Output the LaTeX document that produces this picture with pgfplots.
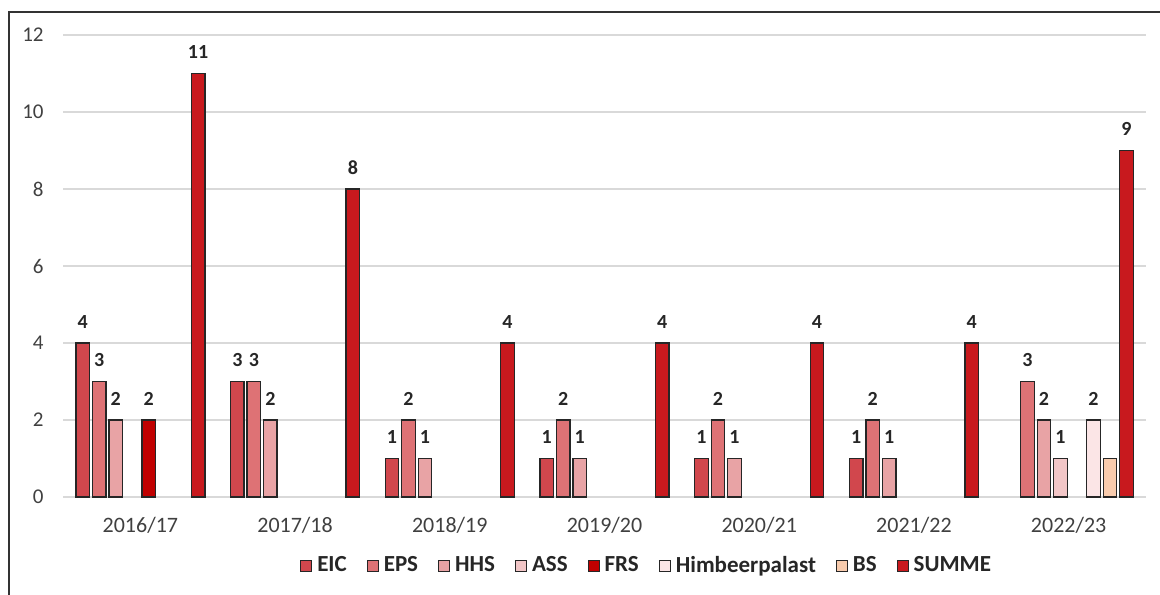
\documentclass[border=0pt]{standalone}
\usepackage{pgfplots}
\pgfplotsset{compat=1.18}
\usepackage{fontspec}
\setmainfont{Carlito}
\definecolor{cEIC}{HTML}{D1474D}
\definecolor{cEPS}{HTML}{DE7275}
\definecolor{cHHS}{HTML}{E8A3A5}
\definecolor{cASS}{HTML}{F2C6C7}
\definecolor{cFRS}{HTML}{C00000}
\definecolor{cHIM}{HTML}{FBE5E6}
\definecolor{cBS}{HTML}{F8CBAD}
\definecolor{cSUM}{HTML}{C8191E}
\definecolor{gridc}{HTML}{D9D9D9}
\definecolor{txt}{HTML}{404040}
\definecolor{lbl}{HTML}{262626}
\begin{document}
\begin{tikzpicture}[x=1bp,y=1bp]
\useasboundingbox (0,0) rectangle (580,297);
\draw[line width=1bp, color=black!80] (4.5,-2) -- (4.5,291) -- (582,291);
\begin{axis}[
  at={(31.5bp,48.5bp)}, anchor=south west,
  scale only axis, width=541.5bp, height=231bp,
  xmin=-0.5, xmax=6.5, ymin=0, ymax=12,
  ytick={0,2,4,6,8,10,12},
  xtick={0,1,2,3,4,5,6},
  xticklabels={2016/17,2017/18,2018/19,2019/20,2020/21,2021/22,2022/23},
  axis line style={draw=none},
  major tick length=0pt,
  ymajorgrids, major grid style={gridc, line width=0.6bp},
  /pgf/number format/assume math mode=true,
  tick label style={color=txt, inner sep=0pt},
  yticklabel style={anchor=east, xshift=-9.5bp, font=\fontsize{10.5bp}{12bp}\selectfont},
  xticklabel style={anchor=north, yshift=-10bp, font=\fontsize{11bp}{13bp}\selectfont},
  clip=false,
  ybar=1.5bp, bar width=6.75bp,
  every axis plot/.append style={draw=lbl, line width=0.65bp},
  nodes near coords style={font=\bfseries\fontsize{10bp}{12bp}\selectfont, color=lbl, inner sep=0pt, anchor=south, yshift=7bp},
  legend columns=8,
  legend style={draw=none, at={(0.538,-0.149)}, anchor=center,
    font=\bfseries\fontsize{11.5bp}{13bp}\selectfont, text=lbl,
    nodes={inner sep=0pt},
    /tikz/every odd column/.append style={column sep=2.5bp},
    /tikz/every even column/.append style={column sep=10bp}},
  legend image code/.code={\draw[#1, line width=0.5bp] (0bp,-2.75bp) rectangle (5.5bp,2.75bp);},
]
\addplot[fill=cEIC, nodes near coords] coordinates {(0,4) (1,3) (2,1) (3,1) (4,1) (5,1)};
\addplot[fill=cEPS, nodes near coords] coordinates {(0,3) (1,3) (2,2) (3,2) (4,2) (5,2) (6,3)};
\addplot[fill=cHHS, nodes near coords] coordinates {(0,2) (1,2) (2,1) (3,1) (4,1) (5,1) (6,2)};
\addplot[fill=cASS, nodes near coords] coordinates {(6,1)};
\addplot[fill=cFRS, nodes near coords] coordinates {(0,2)};
\addplot[fill=cHIM, nodes near coords] coordinates {(6,2)};
\addplot[fill=cBS] coordinates {(6,1)};
\addplot[fill=cSUM, nodes near coords] coordinates {(0,11) (1,8) (2,4) (3,4) (4,4) (5,4) (6,9)};
\legend{EIC,EPS,HHS,ASS,FRS,Himbeerpalast,BS,SUMME}
\end{axis}
\end{tikzpicture}
\end{document}
